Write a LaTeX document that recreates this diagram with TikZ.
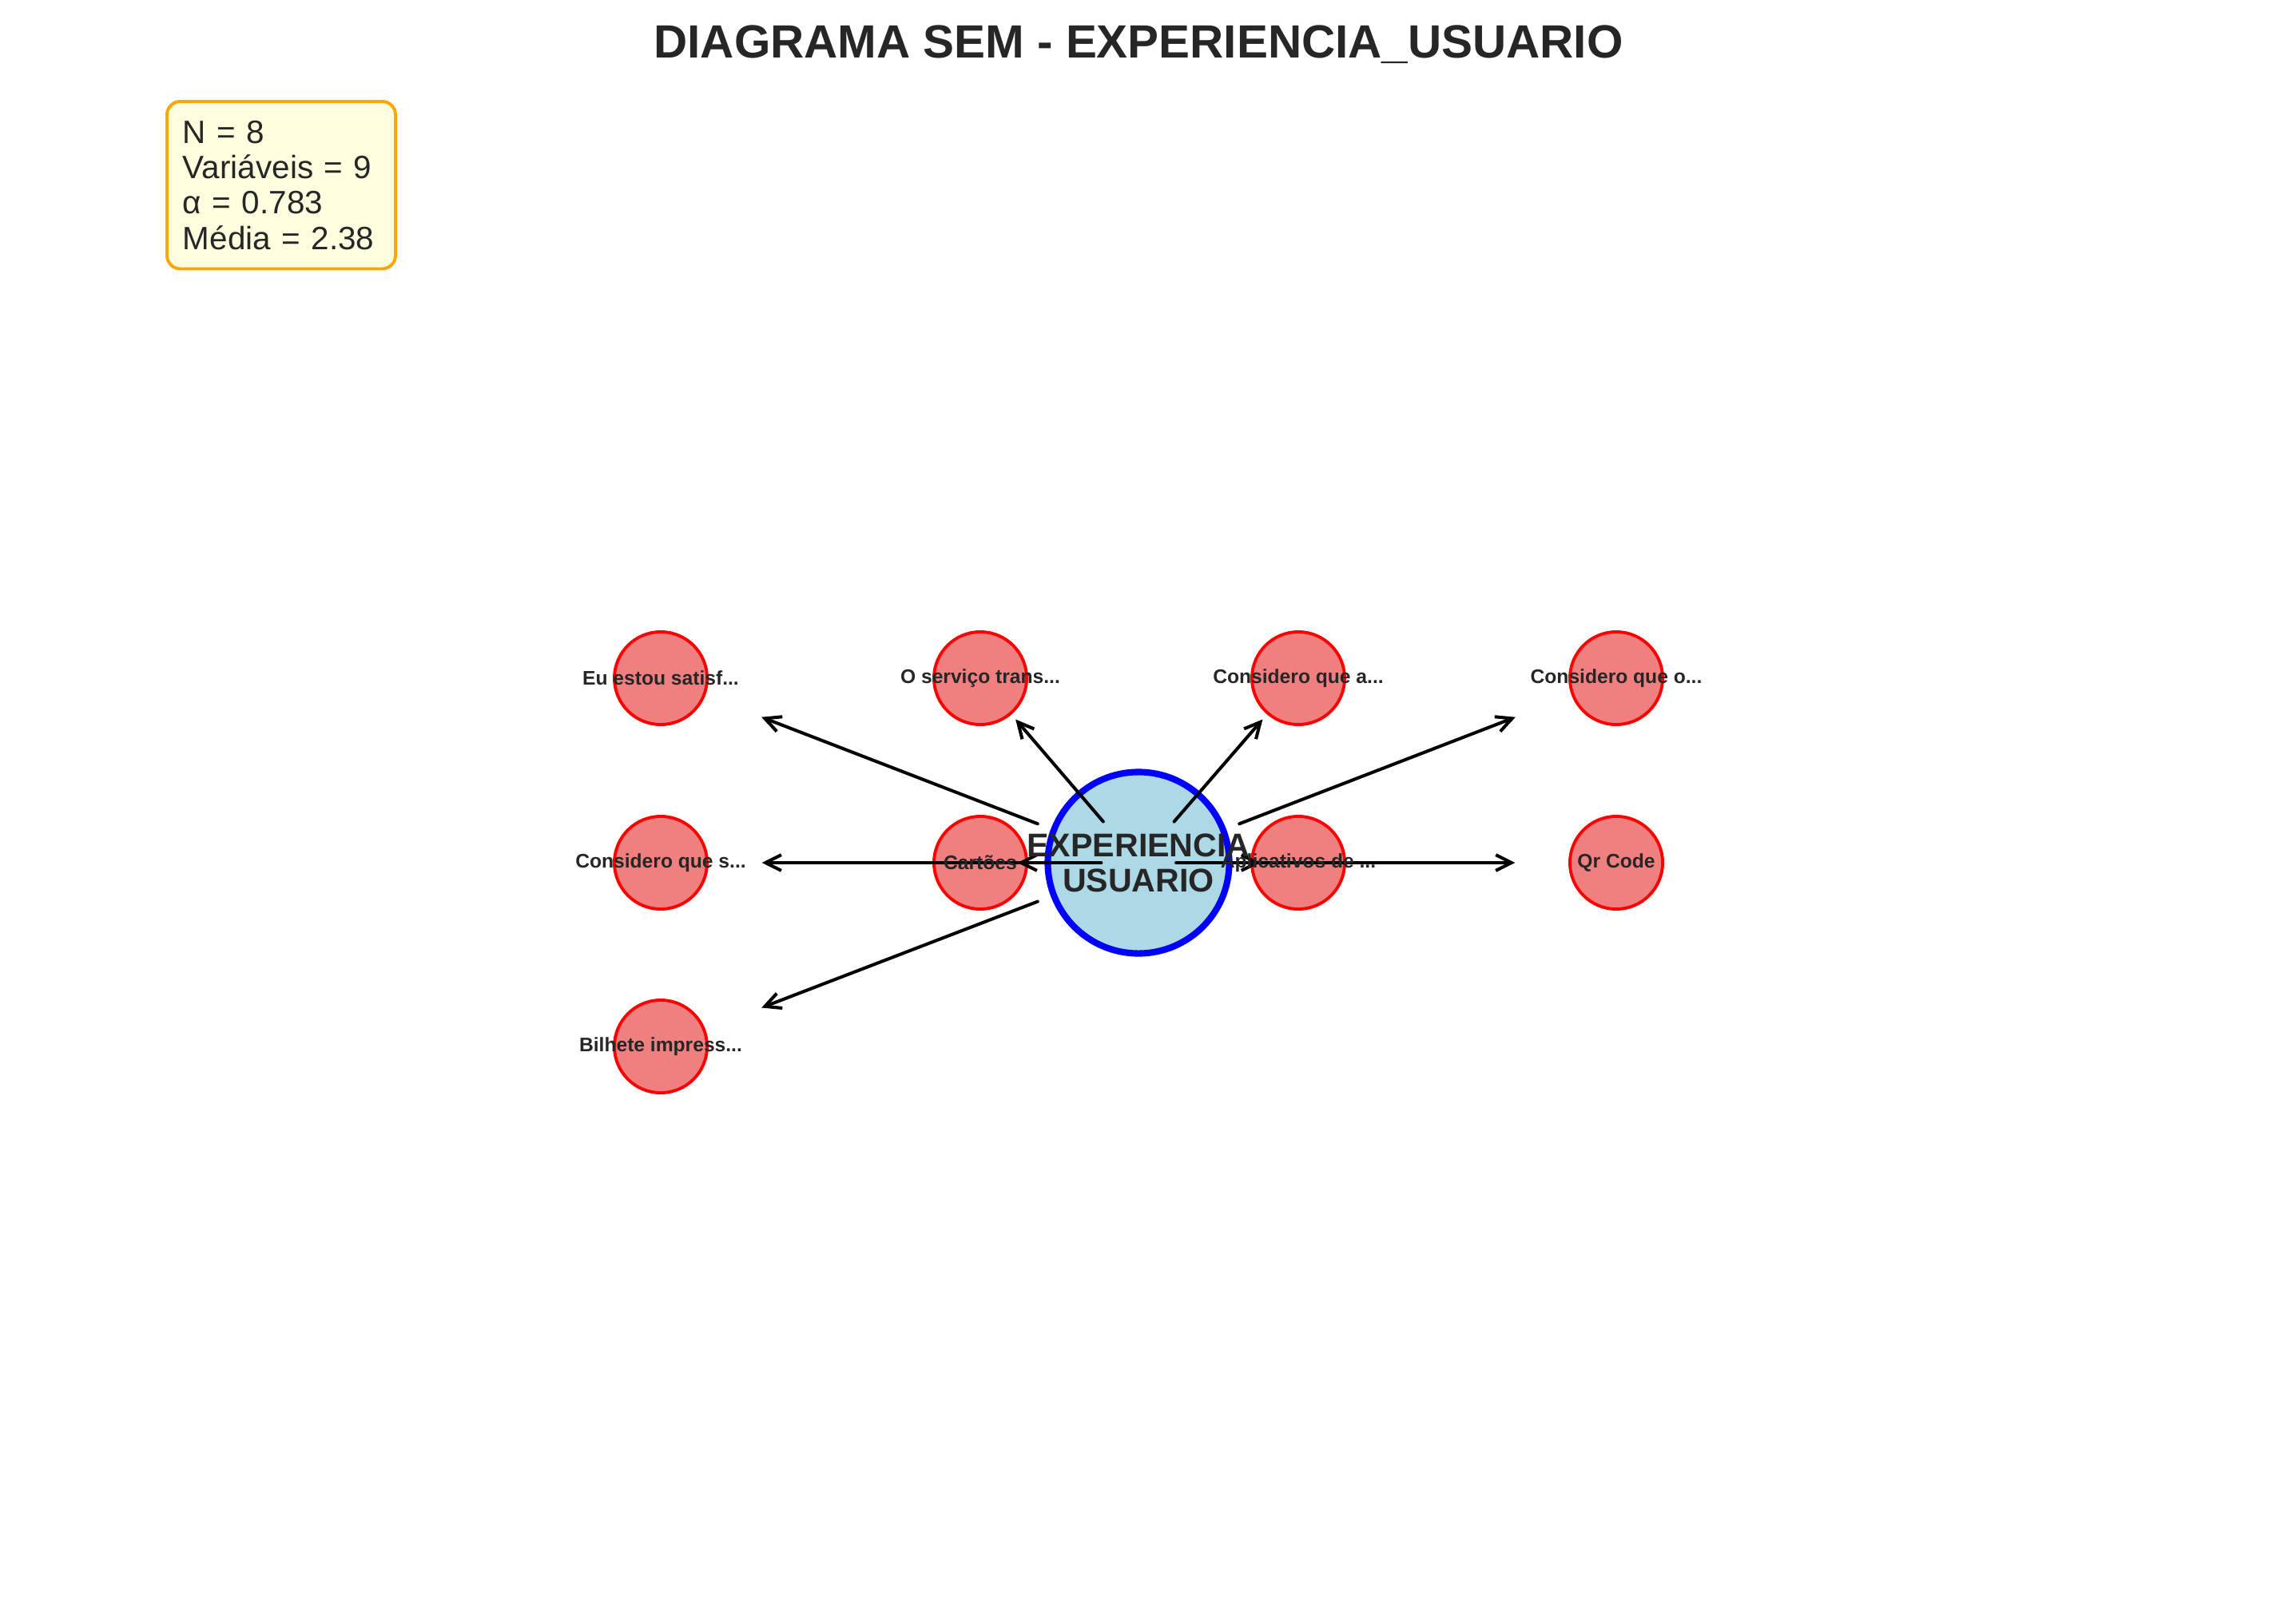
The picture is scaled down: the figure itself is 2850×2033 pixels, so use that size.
\documentclass[tikz,border=0pt]{standalone}
\usepackage{fontspec}
\setmainfont{Liberation Sans}
\usetikzlibrary{arrows.meta}
\usetikzlibrary{calc}

\definecolor{txtgray}{RGB}{38,38,38}
\definecolor{latfill}{RGB}{173,216,230}
\definecolor{obsfill}{RGB}{240,128,128}
\definecolor{boxfill}{RGB}{255,255,224}
\definecolor{boxedge}{RGB}{255,165,0}

\begin{document}
\begin{tikzpicture}[x=0.01cm, y=-0.01cm,
	obsnode/.style={circle, draw=red, fill=obsfill, line width=1.1pt, minimum size=1.16cm, inner sep=0pt},
	latnode/.style={circle, draw=blue, fill=latfill, line width=2.3pt, minimum size=2.27cm, inner sep=0pt},
	obslabel/.style={text=txtgray, font=\fontsize{7}{8.4}\selectfont\bfseries},
	latlabel/.style={text=txtgray, align=center, font=\fontsize{11.7}{12.5}\selectfont\bfseries},
	loadarrow/.style={-{Straight Barb[length=5.6pt, width=5.6pt]}, line width=1.15pt, line cap=round, shorten <=2pt, shorten >=2pt},
	infobox/.style={draw=boxedge, fill=boxfill, line width=1.1pt, rounded corners=0.17cm, text=txtgray, align=left, text width=2.46cm, inner xsep=0.2cm, inner ysep=0.24cm, font=\fontsize{11.5}{12.6}\selectfont}
	]

	\useasboundingbox (0,0) rectangle (2850,2033);

	\node[anchor=base, text=txtgray, font=\fontsize{16.6}{20}\selectfont\bfseries] (title) at (1425,72) {DIAGRAMA SEM - EXPERIENCIA\_USUARIO};

	\node[infobox, anchor=north west] (info) at (207,125) {N = 8\\Variáveis = 9\\α = 0.783\\Média = 2.38};

	% indicadores
	\foreach \n/\px/\py in {o1/827/849, o2/1227/849, o3/1625/849, o4/2023/849, o5/827/1080, o6/1227/1080, o7/1625/1080, o8/2023/1080, o9/827/1310}
		\node[obsnode] (\n) at (\px,\py) {};

	\node[latnode] (lat) at (1425,1080) {};

	% cargas
	\foreach \n in {o1,o2,o3,o4,o5,o6,o7,o8,o9}
		\draw[loadarrow] ($(lat)!0.2!(\n)$) -- ($(lat)!0.8!(\n)$);

	\foreach \n/\txt in {o1/{Eu estou satisf...}, o2/{O serviço trans...}, o3/{Considero que a...}, o4/{Considero que o...}, o5/{Considero que s...}, o6/{Cartões}, o7/{Aplicativos de ...}, o8/{Qr Code}, o9/{Bilhete impress...}}
		\node[obslabel] at (\n) {\txt};

	\node[latlabel] at (lat) {EXPERIENCIA\\USUARIO};

\end{tikzpicture}
\end{document}
